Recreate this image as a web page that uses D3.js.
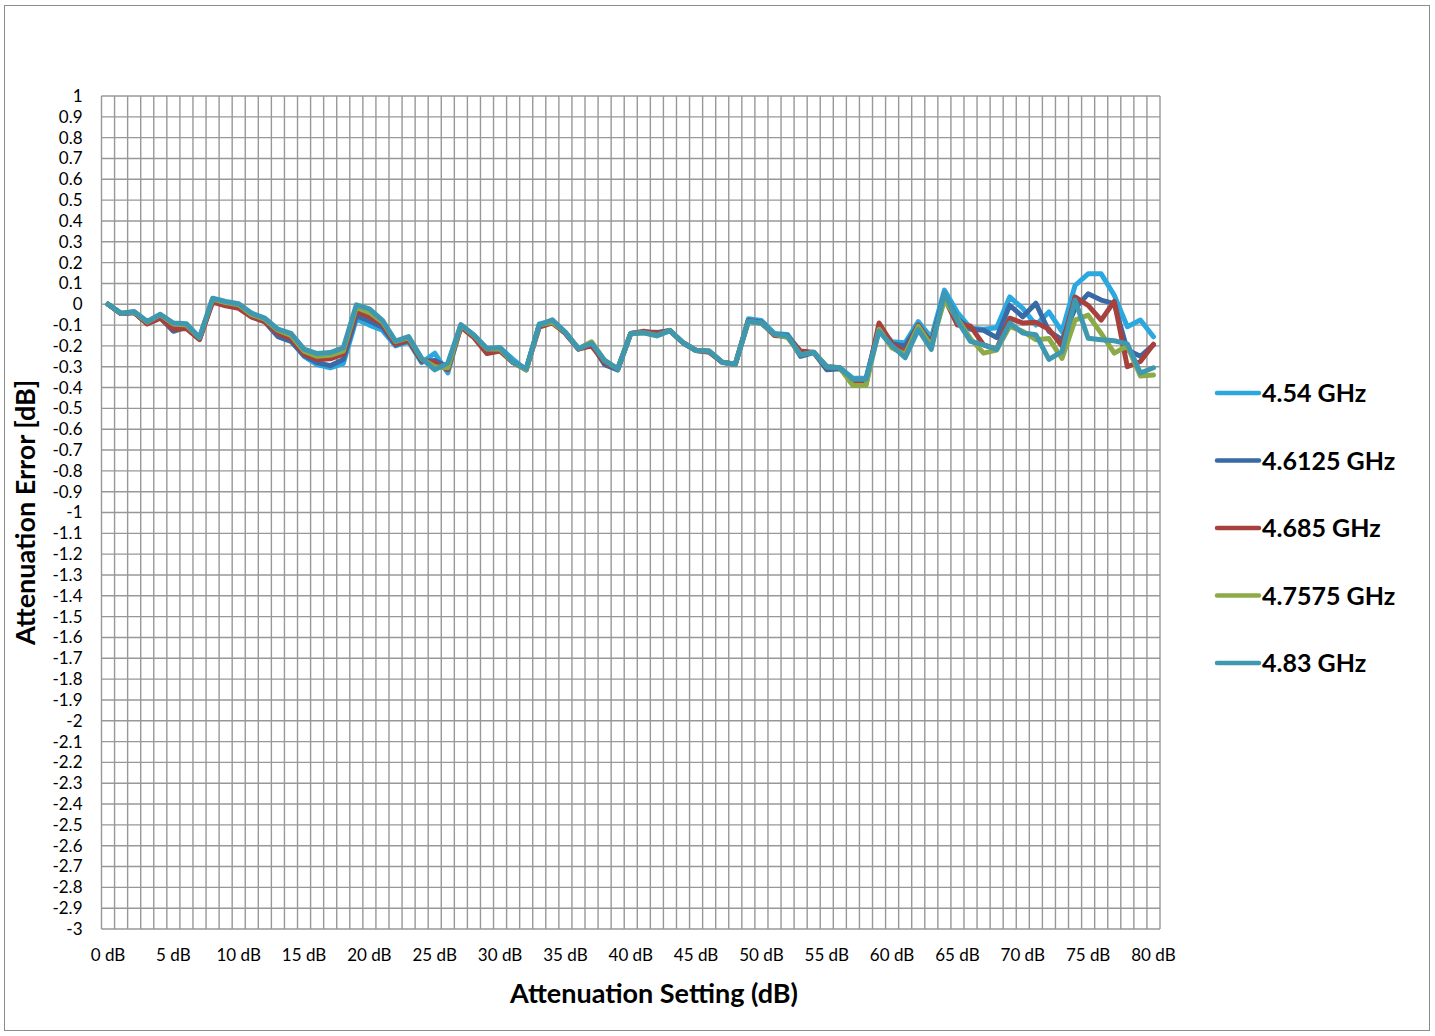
<!DOCTYPE html>
<html>
<head>
<meta charset="utf-8">
<script src="https://cdn.jsdelivr.net/npm/d3@7"></script>
<style>
  html, body { margin: 0; padding: 0; background: #fff; }
  svg { display: block; }
  text { font-family: Lato, "Open Sans", "Liberation Sans", sans-serif; fill: #000; }
</style>
</head>
<body>
<svg id="chart" width="1435" height="1036"></svg>
<script>
// Attenuation settings 0 dB .. 80 dB in 1 dB steps
const settings = d3.range(0, 81);

const seriesNames = ["4.54 GHz", "4.6125 GHz", "4.685 GHz", "4.7575 GHz", "4.83 GHz"];
const seriesColors = ["#2CA8E0", "#3A6AA6", "#A8413D", "#8CAA48", "#3D98B0"];

// Attenuation error [dB] per setting, one array per frequency
const err454 = [
  0, -0.045, -0.04, -0.09, -0.06, -0.11, -0.11, -0.165, 0.02, 0.005,
  -0.005, -0.055, -0.08, -0.15, -0.175, -0.25, -0.29, -0.305, -0.285, -0.072,
  -0.1, -0.125, -0.2, -0.18, -0.28, -0.235, -0.33, -0.105, -0.15, -0.225,
  -0.21, -0.265, -0.315, -0.095, -0.08, -0.135, -0.215, -0.19, -0.28, -0.315,
  -0.14, -0.135, -0.14, -0.125, -0.185, -0.222, -0.225, -0.28, -0.29, -0.07,
  -0.078, -0.14, -0.145, -0.23, -0.23, -0.305, -0.305, -0.355, -0.355, -0.115,
  -0.18, -0.185, -0.083, -0.16, 0.068, -0.04, -0.115, -0.12, -0.113, 0.035,
  -0.02, -0.1, -0.037, -0.132, 0.09, 0.146, 0.146, 0.043, -0.108, -0.076,
  -0.156
];
const err46125 = [
  0, -0.045, -0.04, -0.09, -0.065, -0.13, -0.11, -0.165, 0.015, 0.005,
  -0.005, -0.06, -0.085, -0.155, -0.178, -0.245, -0.28, -0.295, -0.265, -0.055,
  -0.08, -0.11, -0.195, -0.175, -0.275, -0.27, -0.3, -0.105, -0.155, -0.23,
  -0.215, -0.28, -0.31, -0.1, -0.085, -0.14, -0.215, -0.19, -0.29, -0.315,
  -0.14, -0.135, -0.135, -0.127, -0.185, -0.222, -0.227, -0.278, -0.288, -0.078,
  -0.085, -0.145, -0.15, -0.25, -0.232, -0.315, -0.31, -0.37, -0.365, -0.11,
  -0.19, -0.2, -0.1, -0.185, 0.05, -0.07, -0.12, -0.125, -0.16, -0.005,
  -0.06, 0.005, -0.13, -0.17, -0.02, 0.05, 0.02, 0.003, -0.22, -0.25,
  -0.195
];
const err4685 = [
  0, -0.045, -0.04, -0.095, -0.067, -0.12, -0.117, -0.17, 0.01, -0.008,
  -0.02, -0.062, -0.083, -0.14, -0.165, -0.24, -0.265, -0.262, -0.24, -0.035,
  -0.06, -0.095, -0.192, -0.17, -0.27, -0.28, -0.315, -0.11, -0.16, -0.237,
  -0.225, -0.28, -0.315, -0.11, -0.09, -0.14, -0.215, -0.2, -0.28, -0.31,
  -0.14, -0.13, -0.14, -0.127, -0.185, -0.222, -0.23, -0.278, -0.288, -0.08,
  -0.09, -0.15, -0.155, -0.225, -0.232, -0.3, -0.305, -0.38, -0.385, -0.09,
  -0.19, -0.23, -0.1, -0.19, 0.03, -0.1, -0.105, -0.195, -0.215, -0.067,
  -0.09, -0.087, -0.12, -0.2, 0.035, -0.005, -0.076, 0.014, -0.3, -0.275,
  -0.192
];
const err47575 = [
  0, -0.043, -0.037, -0.085, -0.05, -0.095, -0.1, -0.16, 0.025, 0.008,
  -0.002, -0.05, -0.072, -0.125, -0.15, -0.225, -0.25, -0.245, -0.225, -0.015,
  -0.04, -0.085, -0.18, -0.16, -0.262, -0.3, -0.305, -0.1, -0.15, -0.215,
  -0.215, -0.28, -0.315, -0.1, -0.085, -0.135, -0.213, -0.18, -0.27, -0.31,
  -0.14, -0.137, -0.15, -0.127, -0.185, -0.222, -0.225, -0.278, -0.288, -0.083,
  -0.09, -0.143, -0.16, -0.243, -0.23, -0.3, -0.305, -0.39, -0.39, -0.12,
  -0.21, -0.24, -0.106, -0.2, 0.02, -0.07, -0.165, -0.235, -0.22, -0.106,
  -0.13, -0.17, -0.165, -0.26, -0.076, -0.052, -0.14, -0.235, -0.2, -0.345,
  -0.34
];
const err483 = [
  0, -0.043, -0.035, -0.083, -0.048, -0.09, -0.094, -0.16, 0.029, 0.013,
  0.002, -0.043, -0.067, -0.12, -0.14, -0.215, -0.237, -0.232, -0.21, -0.003,
  -0.022, -0.077, -0.177, -0.155, -0.26, -0.315, -0.282, -0.098, -0.148, -0.213,
  -0.208, -0.28, -0.31, -0.1, -0.075, -0.135, -0.213, -0.187, -0.27, -0.31,
  -0.14, -0.137, -0.152, -0.127, -0.185, -0.222, -0.225, -0.278, -0.288, -0.083,
  -0.09, -0.143, -0.153, -0.243, -0.23, -0.3, -0.305, -0.36, -0.36, -0.13,
  -0.2, -0.257, -0.122, -0.217, 0.055, -0.08, -0.178, -0.195, -0.217, -0.09,
  -0.138, -0.146, -0.265, -0.227, 0.02, -0.163, -0.17, -0.175, -0.19, -0.33,
  -0.305
];
const seriesValues = [err454, err46125, err4685, err47575, err483];

// Axis range and tick labels
const yMin = -3, yMax = 1;
const yTicks = d3.range(-30, 11).map(d => d / 10);
const xLabelStep = 5;

const svg = d3.select("#chart");
const plot = { left: 101.5, right: 1160, top: 96, bottom: 929 };

// Outer chart frame
svg.append("rect")
  .attr("x", 4.5).attr("y", 5.5)
  .attr("width", 1425).attr("height", 1025)
  .attr("fill", "#fff").attr("stroke", "#8c8c8c").attr("stroke-width", 1);

const x = d3.scaleBand()
  .domain(settings)
  .range([plot.left, plot.right])
  .paddingInner(0).paddingOuter(0);

const y = d3.scaleLinear()
  .domain([yMin, yMax])
  .range([plot.bottom, plot.top]);

const grid = svg.append("g").attr("stroke", "#989898").attr("stroke-width", 1.4);

// Horizontal gridlines every 0.1 dB
grid.selectAll("line.h")
  .data(yTicks)
  .join("line")
  .attr("class", "h")
  .attr("x1", plot.left).attr("x2", plot.right)
  .attr("y1", d => y(d)).attr("y2", d => y(d));

// Vertical gridlines on category boundaries
const edges = settings.map(s => x(s)).concat([x(settings[settings.length - 1]) + x.bandwidth()]);
grid.selectAll("line.v")
  .data(edges)
  .join("line")
  .attr("class", "v")
  .attr("x1", d => d).attr("x2", d => d)
  .attr("y1", plot.top).attr("y2", plot.bottom);

// Y axis labels
const yAxis = d3.axisLeft(y)
  .tickValues(yTicks)
  .tickSize(0)
  .tickPadding(19)
  .tickFormat(d => String(+d.toFixed(1)));
const gy = svg.append("g")
  .attr("transform", `translate(${plot.left},0)`)
  .call(yAxis);
gy.select(".domain").remove();
gy.selectAll("text")
  .attr("font-size", 17)
  .attr("font-family", "Lato, 'Open Sans', sans-serif")
  .attr("fill", "#000");

// X axis labels every 5 dB
const xAxis = d3.axisBottom(x)
  .tickValues(settings.filter(s => s % xLabelStep === 0))
  .tickSize(0)
  .tickPadding(20)
  .tickFormat(d => d + " dB");
const gx = svg.append("g")
  .attr("transform", `translate(0,${plot.bottom})`)
  .call(xAxis);
gx.select(".domain").remove();
gx.selectAll("text")
  .attr("font-size", 17)
  .attr("font-family", "Lato, 'Open Sans', sans-serif")
  .attr("fill", "#000");

// Axis titles
svg.append("text")
  .attr("transform", `translate(35,${(plot.top + plot.bottom) / 2}) rotate(-90)`)
  .attr("text-anchor", "middle")
  .attr("font-size", 27)
  .attr("font-weight", "bold")
  .text("Attenuation Error [dB]");

svg.append("text")
  .attr("x", 654).attr("y", 1003)
  .attr("text-anchor", "middle")
  .attr("font-size", 27)
  .attr("font-weight", "bold")
  .text("Attenuation Setting (dB)");

// Series lines
const line = d3.line()
  .x((d, i) => x(settings[i]) + x.bandwidth() / 2)
  .y(d => y(d));

svg.append("g")
  .selectAll("path")
  .data(seriesValues)
  .join("path")
  .attr("d", d => line(d))
  .attr("fill", "none")
  .attr("stroke", (d, i) => seriesColors[i])
  .attr("stroke-width", 5)
  .attr("stroke-linejoin", "round")
  .attr("stroke-linecap", "round");

// Legend
const legend = svg.append("g");
const legendItems = legend.selectAll("g")
  .data(seriesNames)
  .join("g")
  .attr("transform", (d, i) => `translate(1217,${393 + i * 67.5})`);
legendItems.append("line")
  .attr("x1", 0).attr("x2", 42)
  .attr("stroke", (d, i) => seriesColors[i])
  .attr("stroke-width", 4.5)
  .attr("stroke-linecap", "round");
legendItems.append("text")
  .attr("x", 45).attr("y", 9)
  .attr("font-size", 25)
  .attr("font-weight", "bold")
  .text(d => d);
</script>
</body>
</html>
